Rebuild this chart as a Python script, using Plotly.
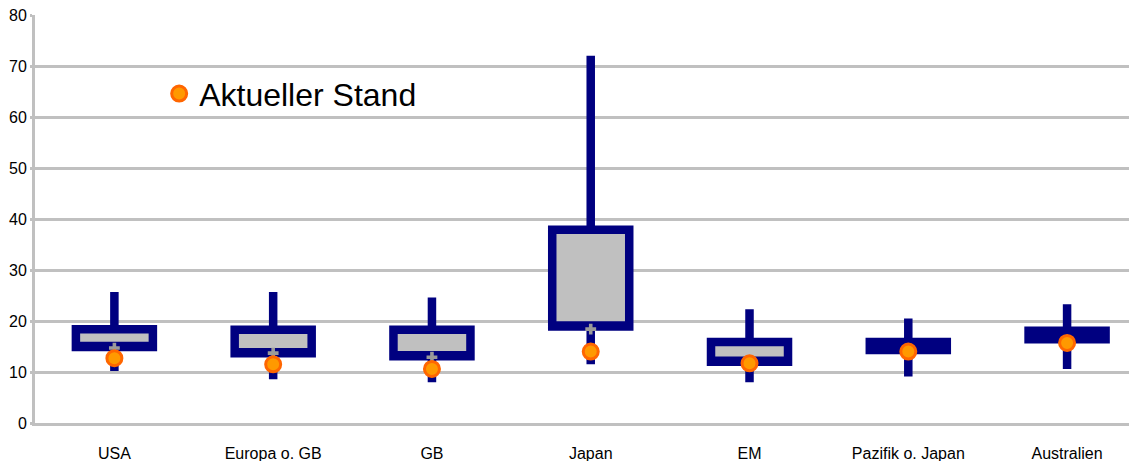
import plotly.graph_objects as go

categories = ["USA", "Europa o. GB", "GB", "Japan", "EM", "Pazifik o. Japan", "Australien"]
high_vals = [25.7, 25.7, 24.6, 72.0, 22.3, 20.5, 23.3]
box_top = [18.4, 18.3, 18.3, 37.9, 15.9, 15.9, 18.1]
box_bottom = [14.9, 13.7, 13.1, 18.9, 12.0, 14.3, 16.4]
low_vals = [10.2, 8.6, 8.0, 11.5, 8.0, 9.1, 10.6]
cross_vals = [14.7, 13.7, 12.9, 18.4, 12.0, 14.4, 16.2]
current_vals = [12.7, 11.5, 10.6, 14.0, 11.7, 14.0, 15.7]

FONT = "Liberation Sans, Arial, sans-serif"
NAVY = "#000080"
GRID = "#c0c0c0"

fig = go.Figure()

fig.add_trace(go.Box(
    x=categories,
    q1=box_bottom,
    median=box_bottom,
    q3=box_top,
    lowerfence=low_vals,
    upperfence=high_vals,
    fillcolor=GRID,
    line=dict(color=NAVY, width=8.5),
    width=0.485,
    whiskerwidth=0,
    boxpoints=False,
    showlegend=False,
    hoverinfo="skip",
))

fig.add_trace(go.Scatter(
    x=categories,
    y=cross_vals,
    mode="markers",
    marker=dict(symbol="cross", size=9, color="#9a9a9a", line=dict(width=0)),
    showlegend=False,
    hoverinfo="skip",
))

fig.add_trace(go.Scatter(
    x=categories,
    y=current_vals,
    mode="markers",
    name="Aktueller Stand",
    marker=dict(symbol="circle", size=15, color="#ff9900",
                line=dict(color="#ff6600", width=3)),
    showlegend=True,
))

fig.update_layout(
    width=1129,
    height=461,
    margin=dict(l=35, r=0, t=15, b=38, autoexpand=False),
    paper_bgcolor="white",
    plot_bgcolor="white",
    font=dict(family=FONT, size=16, color="black"),
    legend=dict(
        x=0.1135, y=0.807, xanchor="left", yanchor="middle",
        font=dict(family=FONT, size=32, color="black"),
        bgcolor="rgba(0,0,0,0)",
        itemsizing="trace",
    ),
    xaxis=dict(
        type="category",
        range=[-0.5, 6.39],
        automargin=False,
        showgrid=False,
        showline=True,
        linecolor=GRID,
        linewidth=3,
        ticks="outside",
        ticklen=14,
        tickcolor="rgba(0,0,0,0)",
        tickfont=dict(family=FONT, size=16, color="black"),
        fixedrange=True,
    ),
    yaxis=dict(
        range=[0, 80],
        dtick=10,
        automargin=False,
        showgrid=True,
        gridcolor=GRID,
        gridwidth=3,
        zeroline=False,
        showline=True,
        linecolor=GRID,
        linewidth=3,
        ticks="outside",
        ticklen=2,
        tickwidth=3,
        tickcolor=GRID,
        tickfont=dict(family=FONT, size=16, color="black"),
        fixedrange=True,
    ),
)

fig.write_html(
    "out.html",
    config={"displayModeBar": False, "staticPlot": True},
    post_script="document.body.style.margin='0';document.body.style.overflow='hidden';",
)
